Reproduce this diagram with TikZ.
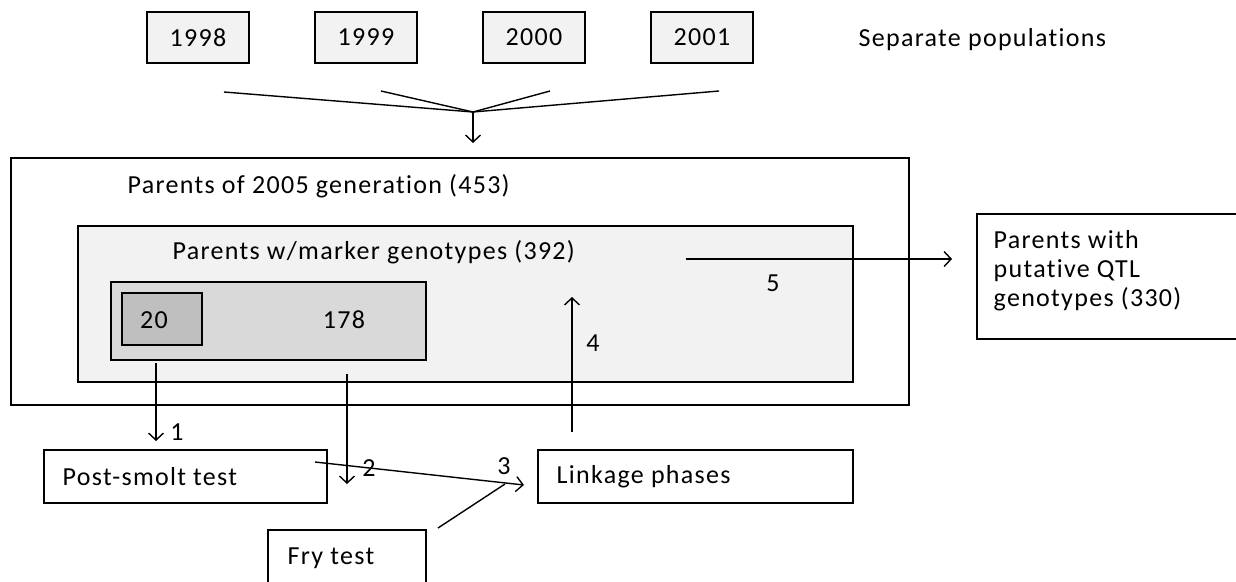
\documentclass[tikz,border=0pt]{standalone}
\usepackage{fontspec}
\setmainfont[Ligatures=NoCommon,LetterSpace=5]{Carlito}
\usetikzlibrary{arrows.meta}
\definecolor{lightfill}{HTML}{F2F2F2}
\definecolor{midfill}{HTML}{D9D9D9}
\definecolor{darkfill}{HTML}{BFBFBF}
\begin{document}
\begin{tikzpicture}[x=1pt,y=-1pt,line width=1.4pt,
  every node/.style={font=\fontsize{26}{29}\selectfont},
  boxnode/.style={draw,line width=1.4pt,inner sep=0pt},
  yearbox/.style={boxnode,fill=lightfill,minimum width=102pt,minimum height=51pt},
  txt/.style={inner sep=0pt,anchor=west},
  lbl/.style={inner sep=0pt},
  arr/.style={-{Straight Barb[length=7pt,width=15pt,line width=1.4pt]}}]
\clip (0,0) rectangle (1236,581);
\useasboundingbox (0,0) rectangle (1236,581);
% year boxes
\node[yearbox] (y1998) at (198,37.5) {1998};
\node[yearbox] (y1999) at (366,37.5) {1999};
\node[yearbox] (y2000) at (534,37.5) {2000};
\node[yearbox] (y2001) at (702,37.5) {2001};
\node[txt] (sep) at (858,40) {Separate populations};
% fan
\coordinate (f1) at (224,92);
\coordinate (f2) at (381,91);
\coordinate (f3) at (550,91);
\coordinate (f4) at (719,91);
\coordinate (merge) at (473,112);
\coordinate (mergeend) at (473,143);
\draw (f1) -- (merge);
\draw (f2) -- (merge);
\draw (f3) -- (merge);
\draw (f4) -- (merge);
\draw[arr] (merge) -- (mergeend);
% nested boxes
\node[boxnode,fill=white,minimum width=898pt,minimum height=247pt] (outer) at (460,281.5) {};
\node[txt] (outertxt) at (127,186) {Parents of 2005 generation (453)};
\node[boxnode,fill=lightfill,minimum width=775pt,minimum height=156pt] (inner) at (465.5,304) {};
\node[txt] (innertxt) at (172,252) {Parents w/marker genotypes (392)};
\node[boxnode,fill=midfill,minimum width=315pt,minimum height=78pt] (b178) at (268.5,321) {};
\node[boxnode,fill=darkfill,minimum width=80pt,minimum height=52pt] (b20) at (162,319) {};
\node[lbl] (t20) at (154,320) {20};
\node[lbl] (t178) at (344,320) {178};
% lower boxes
\node[boxnode,minimum width=283pt,minimum height=53pt] (post) at (185.5,476.5) {};
\node[txt] (posttxt) at (62,477) {Post-smolt test};
\node[boxnode,minimum width=158pt,minimum height=70pt] (fry) at (347,565) {};
\node[txt] (frytxt) at (287,558) {Fry test};
\node[boxnode,minimum width=315pt,minimum height=53pt] (link) at (695.5,476.5) {};
\node[txt] (linktxt) at (556,477) {Linkage phases};
\node[boxnode,minimum width=263pt,minimum height=125pt] (qtl) at (1108.5,276.5) {};
\node[inner sep=0pt,anchor=north west,align=left] (qtltxt) at (993,230) {Parents with\\putative QTL\\genotypes (330)};
% arrows
\coordinate (a1s) at (156,363);
\coordinate (a1e) at (156,441);
\draw[arr] (a1s) -- (a1e);
\node[lbl] (l1) at (177,432) {1};
\coordinate (a2s) at (347,374);
\coordinate (a2e) at (347,484);
\draw[arr] (a2s) -- (a2e);
\node[lbl] (l2) at (369,468) {2};
\coordinate (a3s) at (315,462);
\coordinate (a3tip) at (524,485);
\coordinate (a3f) at (438,528);
\coordinate (a3m) at (505,484);
\draw[arr] (a3s) -- (a3tip);
\draw (a3f) -- (a3m);
\node[lbl] (l3) at (504,466) {3};
\coordinate (a4s) at (572,432);
\coordinate (a4e) at (572,297);
\draw[arr] (a4s) -- (a4e);
\node[lbl] (l4) at (593,343) {4};
\coordinate (a5s) at (686,259);
\coordinate (a5e) at (952,259);
\draw[arr] (a5s) -- (a5e);
\node[lbl] (l5) at (773,283) {5};
\end{tikzpicture}
\end{document}
